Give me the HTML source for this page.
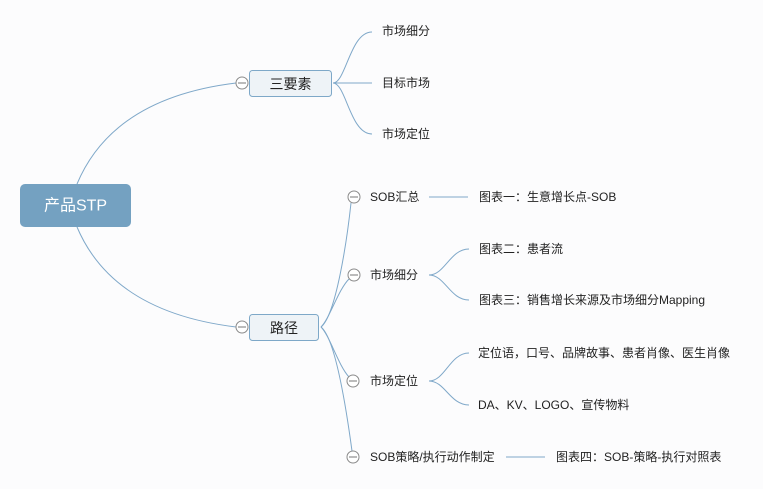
<!DOCTYPE html>
<html><head><meta charset="utf-8"><style>
html,body{margin:0;padding:0;background:#fcfcfd;}
svg{display:block;}
text{font-family:"Liberation Sans","Noto Sans CJK SC",sans-serif;fill:#222;}
</style></head><body>
<svg width="763" height="489" viewBox="0 0 763 489" xmlns="http://www.w3.org/2000/svg">
<rect width="763" height="489" fill="#fcfcfd"/>
<g fill="none" stroke="#7fa8c9" stroke-width="1">
<path d="M77,184 Q113,98 236,83"/>
<path d="M77,227 Q113,312 236,327"/>
<path d="M333,83 C346,83 350,32 372,32"/>
<path d="M333,83 L372,83"/>
<path d="M333,83 C346,83 350,134 372,134"/>
<path d="M321,327 C336,315 347,240 351,203"/>
<path d="M321,327 C330,318 338,290 349,279"/>
<path d="M321,327 C330,336 338,365 349,377"/>
<path d="M321,327 C336,339 347,414 352,451"/>
<path d="M429,197 L468,197"/>
<path d="M429,275 C445,275 450,249 469,249"/>
<path d="M429,275 C445,275 450,300 469,300"/>
<path d="M429,381 C445,381 450,353 469,353"/>
<path d="M429,381 C445,381 450,405 469,405"/>
<path d="M506,457 L545,457"/>
</g>
<rect x="20" y="184" width="111" height="43" rx="5" fill="#74a1c1"/>
<text x="75.5" y="206" font-size="16" fill="#fff" style="fill:#fff" text-anchor="middle" dominant-baseline="central">产品STP</text>
<rect x="249.5" y="70.5" width="82" height="26" rx="3" fill="#eef3f7" stroke="#7ea8c8"/>
<text x="290.5" y="84" font-size="14" text-anchor="middle" dominant-baseline="central">三要素</text>
<rect x="249.5" y="314.5" width="69" height="26" rx="3" fill="#eef3f7" stroke="#7ea8c8"/>
<text x="284" y="328" font-size="14" text-anchor="middle" dominant-baseline="central">路径</text>
<g fill="#fff" stroke="#8a8a8a" stroke-width="1">
<circle cx="242" cy="83" r="6"/>
<circle cx="242" cy="327" r="6"/>
<circle cx="354" cy="197" r="6"/>
<circle cx="354" cy="275" r="6"/>
<circle cx="353" cy="381" r="6"/>
<circle cx="353" cy="457" r="6"/>
</g>
<g stroke="#777" stroke-width="1">
<line x1="238" y1="83" x2="246" y2="83"/>
<line x1="238" y1="327" x2="246" y2="327"/>
<line x1="350" y1="197" x2="358" y2="197"/>
<line x1="350" y1="275" x2="358" y2="275"/>
<line x1="349" y1="381" x2="357" y2="381"/>
<line x1="349" y1="457" x2="357" y2="457"/>
</g>
<g font-size="12" dominant-baseline="central">
<text x="382" y="31">市场细分</text>
<text x="382" y="83">目标市场</text>
<text x="382" y="134">市场定位</text>
<text x="370" y="197">SOB汇总</text>
<text x="479" y="197">图表一：生意增长点-SOB</text>
<text x="370" y="275">市场细分</text>
<text x="479" y="249">图表二：患者流</text>
<text x="479" y="300">图表三：销售增长来源及市场细分Mapping</text>
<text x="370" y="381">市场定位</text>
<text x="478" y="353">定位语，口号、品牌故事、患者肖像、医生肖像</text>
<text x="478" y="405">DA、KV、LOGO、宣传物料</text>
<text x="370" y="457">SOB策略/执行动作制定</text>
<text x="556" y="457">图表四：SOB-策略-执行对照表</text>
</g>
</svg>
</body></html>
